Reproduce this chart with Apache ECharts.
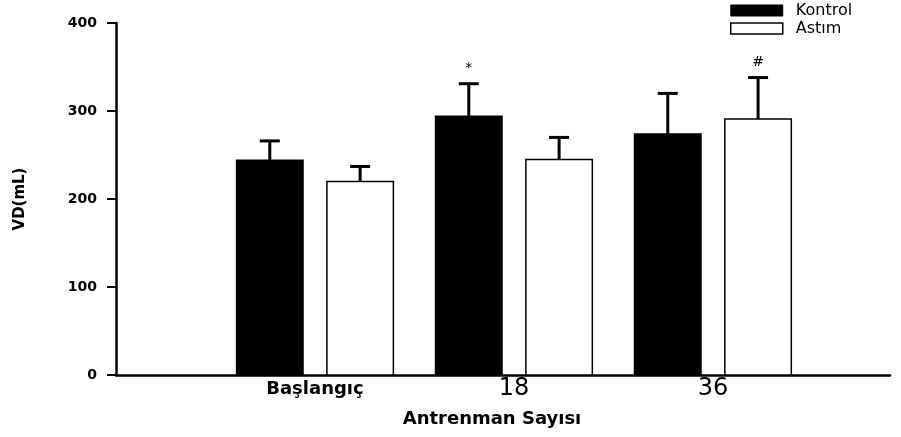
<!DOCTYPE html>
<html>
<head>
<meta charset="utf-8">
<script src="https://cdn.jsdelivr.net/npm/echarts@6/dist/echarts.min.js"></script>
<style>
    html, body { margin: 0; padding: 0; background: #fff; }
    #chart { width: 901px; height: 437px; }
</style>
</head>
<body>
<div id="chart"></div>
<script type="text/javascript">
    // values
    var categories = ['Başlangıç', '18', '36'];
    var kontrol = [244, 294, 274];
    var kontrolErr = [22, 37, 46];
    var kontrolMarks = ['', '*', ''];
    var astim = [220, 245, 291];
    var astimErr = [17, 25, 47];
    var astimMarks = ['', '', '#'];

    var font = 'DejaVu Sans, Liberation Sans, sans-serif';

    function rows(values, errs) {
        return values.map(function (v, i) { return [i + 1, v, errs[i]]; });
    }

    function barRenderer(offset, fill, marks) {
        return function (params, api) {
            var cat = api.value(0), v = api.value(1), e = api.value(2);
            var unit = api.size([1, 0])[0];
            var cx = api.coord([cat, 0])[0] + offset * unit;
            var base = api.coord([cat, 0])[1];
            var top = api.coord([cat, v])[1];
            var errTop = api.coord([cat, v + e])[1];
            var bw = 0.334 * unit;
            var children = [
                { type: 'rect', shape: { x: cx - bw / 2, y: top, width: bw, height: base - top },
                  style: { fill: fill, stroke: '#000', lineWidth: 1.5 } },
                { type: 'line', shape: { x1: cx, y1: top, x2: cx, y2: errTop },
                  style: { stroke: '#000', lineWidth: 3 } },
                { type: 'line', shape: { x1: cx - 10, y1: errTop, x2: cx + 10, y2: errTop },
                  style: { stroke: '#000', lineWidth: 3 } }
            ];
            var m = marks[params.dataIndex];
            if (m) {
                children.push({ type: 'text', x: cx, y: errTop - 8,
                    style: { text: m, fill: '#000', font: '14px ' + font, align: 'center', verticalAlign: 'bottom' } });
            }
            return { type: 'group', children: children };
        };
    }

    var chart = echarts.init(document.getElementById('chart'));
    chart.setOption({
        animation: false,
        backgroundColor: '#fff',
        grid: { left: 116, right: 11, top: 23, bottom: 62, containLabel: false },
        legend: {
            orient: 'vertical', left: 730, top: 2.5, padding: 0,
            itemWidth: 52, itemHeight: 11, itemGap: 2,
            icon: 'rect',
            textStyle: { fontFamily: font, fontSize: 16, lineHeight: 16, color: '#000', padding: [0, 0, 0, 8] },
            data: [
                { name: 'Kontrol', itemStyle: { color: '#000', borderColor: '#000', borderWidth: 1 } },
                { name: 'Astım', itemStyle: { color: '#fff', borderColor: '#000', borderWidth: 1.5 } }
            ]
        },
        xAxis: {
            type: 'value', min: 0, max: 3.89, interval: 1,
            splitLine: { show: false },
            axisTick: { show: false },
            axisLine: { lineStyle: { color: '#000', width: 2.5 } },
            axisLabel: {
                margin: 0, showMaxLabel: false,
                formatter: function (v) {
                    var c = categories[v - 1];
                    if (!c) return '';
                    return v === 1 ? '{b|' + c + '}' : '{n|' + c + '}';
                },
                rich: {
                    b: { fontFamily: font, fontSize: 18, fontWeight: 'bold', color: '#000', lineHeight: 28 },
                    n: { fontFamily: font, fontSize: 24, color: '#000', lineHeight: 28 }
                }
            },
            name: 'Antrenman Sayısı', nameLocation: 'middle', nameGap: 35,
            nameTextStyle: { fontFamily: font, fontSize: 18, fontWeight: 'bold', color: '#000', padding: [0, 22, 0, 0] }
        },
        yAxis: {
            type: 'value', min: 0, max: 400, interval: 100,
            splitLine: { show: false },
            axisLine: { show: true, lineStyle: { color: '#000', width: 2.5 } },
            axisTick: { show: true, length: 9, lineStyle: { color: '#000', width: 2 } },
            axisLabel: { margin: 19, fontFamily: font, fontSize: 14, fontWeight: 'bold', color: '#000' },
            name: 'VD(mL)', nameLocation: 'middle', nameGap: 88,
            nameTextStyle: { fontFamily: font, fontSize: 15, fontWeight: 'bold', color: '#000' }
        },
        series: [
            { name: 'Kontrol', type: 'custom', itemStyle: { color: '#000' },
              renderItem: barRenderer(-0.227, '#000', kontrolMarks),
              encode: { x: 0, y: 1 }, data: rows(kontrol, kontrolErr) },
            { name: 'Astım', type: 'custom', itemStyle: { color: '#fff', borderColor: '#000' },
              renderItem: barRenderer(0.227, '#fff', astimMarks),
              encode: { x: 0, y: 1 }, data: rows(astim, astimErr) }
        ]
    });
</script>
</body>
</html>
